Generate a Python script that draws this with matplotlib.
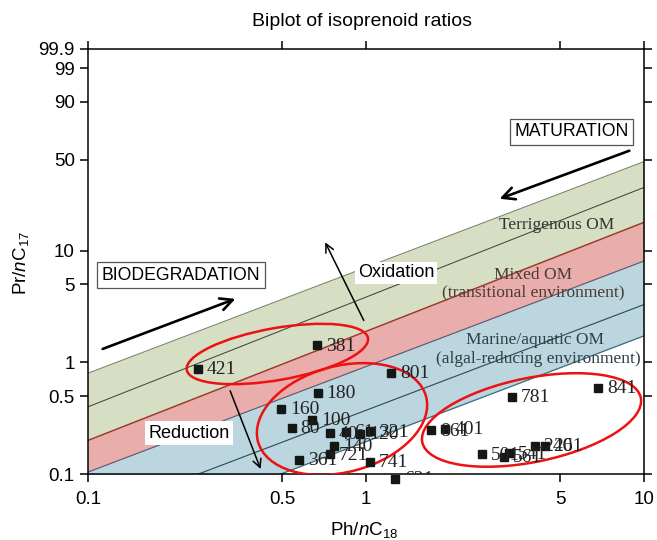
import numpy as np
import matplotlib
matplotlib.use("Agg")
import matplotlib.pyplot as plt
from matplotlib.patches import Ellipse
from matplotlib.transforms import ScaledTranslation

plt.rcParams['font.family'] = ['Liberation Sans', 'DejaVu Sans']
plt.rcParams['mathtext.fontset'] = 'custom'
plt.rcParams['mathtext.rm'] = 'Liberation Sans'
plt.rcParams['mathtext.it'] = 'Liberation Sans:italic'

# samples (Ph/nC18, Pr/nC17)
sample_ids = ['421', '381', '801', '180', '160', '100', '80',
              '40', '61', '120', '321', '140', '721', '361', '741', '621',
              '861', '401', '501', '561', '541', '240', '261', '781', '841']
ph_nc18 = [0.248, 0.668, 1.23, 0.67, 0.496, 0.64, 0.54,
           0.74, 0.844, 0.955, 1.034, 0.769, 0.742, 0.573, 1.034, 1.27,
           1.72, 1.93, 2.61, 3.13, 3.26, 4.04, 4.39, 3.35, 6.82]
pr_nc17 = [0.875, 1.42, 0.81, 0.53, 0.386, 0.305, 0.26,
           0.231, 0.238, 0.228, 0.241, 0.178, 0.150, 0.134, 0.129, 0.090,
           0.246, 0.252, 0.150, 0.143, 0.153, 0.179, 0.179, 0.493, 0.594]

# environment boundaries, Pr/nC17 at Ph/nC18 = 0.1 and 10
band_x = [0.1, 10]
terr_top = [0.80, 63]
terr_mid = [0.40, 37]
mixed_top = [0.20, 18]
marine_top = [0.104, 8.1]
marine_mid = [0.042, 3.3]
marine_bot = [0.022, 1.73]

x_ticks = [0.1, 0.5, 1, 5, 10]
x_tick_labels = ['0.1', '0.5', '1', '5', '10']
# upper y ticks sit where the figure prints them, not on a true log grid
y_ticks = [0.1, 0.5, 1, 5, 10, 65.5, 217, 434, 644]
y_tick_labels = ['0.1', '0.5', '1', '5', '10', '50', '90', '99', '99.9']

# cluster ellipses: centre (data), width/height (inches), angle
clusters = [((0.480, 1.19), 1.84, 0.52, 10),
            ((0.820, 0.311), 1.74, 1.06, 15),
            ((3.94, 0.305), 2.23, 0.84, 11.5)]

fig = plt.figure(figsize=(6.57, 5.40), dpi=100)
ax = fig.add_axes([0.1339, 0.1222, 0.8463, 0.7871])
ax.set_xscale('log')
ax.set_yscale('log')

ax.fill_between(band_x, terr_top, mixed_top, color='#d6dec4', lw=0, zorder=1)
ax.fill_between(band_x, mixed_top, marine_top, color='#e9adab', lw=0, zorder=1)
ax.fill_between(band_x, marine_top, marine_bot, color='#bbd6df', lw=0, zorder=1)
ax.plot(band_x, terr_top, color='#7d8468', lw=0.8, zorder=2)
ax.plot(band_x, terr_mid, color='#3a3d33', lw=0.7, zorder=2)
ax.plot(band_x, mixed_top, color='#9c3b2a', lw=1.1, zorder=2)
ax.plot(band_x, marine_top, color='#5e6078', lw=0.9, zorder=2)
ax.plot(band_x, marine_mid, color='#2c4852', lw=0.8, zorder=2)
ax.plot(band_x, marine_bot, color='#3f6d7c', lw=0.9, zorder=2)

serif = ['Liberation Serif', 'DejaVu Serif']
ax.text(4.86, 17.1, 'Terrigenous OM', ha='center', va='center', fontsize=12.5,
        family=serif, color='#333333', zorder=3)
ax.text(3.99, 6.09, 'Mixed OM', ha='center', va='center', fontsize=12.5,
        family=serif, color='#4a3a36', zorder=3)
ax.text(3.99, 4.20, '(transitional environment)', ha='center', va='center',
        fontsize=12.5, family=serif, color='#4a3a36', zorder=3)
ax.text(4.06, 1.59, 'Marine/aquatic OM', ha='center', va='center', fontsize=12.5,
        family=serif, color='#2f3f45', zorder=3)
ax.text(4.16, 1.075, '(algal-reducing environment)', ha='center', va='center',
        fontsize=12.5, family=serif, color='#2f3f45', zorder=3)

for (cx, cy), w, h, ang in clusters:
    tr = fig.dpi_scale_trans + ScaledTranslation(cx, cy, ax.transData)
    e = Ellipse((0, 0), w, h, angle=ang, transform=tr, fill=False,
                ec='#ee1111', lw=1.8, zorder=3)
    ax.add_artist(e)

ax.plot(ph_nc18, pr_nc17, 's', ms=6, color='#141814', clip_on=False, zorder=4)
for sid, xv, yv in zip(sample_ids, ph_nc18, pr_nc17):
    ax.annotate(sid, (xv, yv), xytext=(6.5, -0.5), textcoords='offset points',
                ha='left', va='center', fontsize=14, family=serif,
                color='#222222', annotation_clip=False, clip_on=True, zorder=4)

# process arrows
big = dict(arrowstyle='->', lw=1.9, color='black', mutation_scale=22)
thin = dict(arrowstyle='->', lw=1.1, color='black', mutation_scale=15)
ax.annotate('', xy=(0.3464, 3.79), xytext=(0.1105, 1.294), arrowprops=big, zorder=5)
ax.annotate('', xy=(2.96, 28.7), xytext=(9.05, 80.5), arrowprops=big, zorder=5)
ax.annotate('', xy=(0.706, 12.55), xytext=(0.992, 2.26), arrowprops=thin, zorder=5)
ax.annotate('', xy=(0.4214, 0.105), xytext=(0.322, 0.587), arrowprops=thin, zorder=5)

ax.text(0.216, 6.03, 'BIODEGRADATION', ha='center', va='center', fontsize=12.7,
        bbox=dict(boxstyle='square,pad=0.25', fc='white', ec='#555555', lw=0.9),
        zorder=6)
ax.text(5.485, 116.7, 'MATURATION', ha='center', va='center', fontsize=12.7,
        bbox=dict(boxstyle='square,pad=0.25', fc='white', ec='#555555', lw=0.9),
        zorder=6)
ax.text(1.283, 6.35, 'Oxidation', ha='center', va='center', fontsize=13,
        bbox=dict(boxstyle='square,pad=0.15', fc='white', ec='none'), zorder=6)
ax.text(0.2308, 0.233, 'Reduction', ha='center', va='center', fontsize=13,
        bbox=dict(boxstyle='square,pad=0.2', fc='white', ec='none'), zorder=6)

ax.set_xlim(0.1, 10)
ax.set_ylim(0.1, 644)
ax.set_xticks(x_ticks)
ax.set_xticklabels(x_tick_labels)
ax.set_yticks(y_ticks)
ax.set_yticklabels(y_tick_labels)
ax.minorticks_off()
ax.tick_params(direction='out', top=True, right=True, length=6, width=1.1,
               labelsize=13.5)
ax.tick_params(axis='x', pad=6)
ax.tick_params(axis='y', pad=3.5)
for s in ax.spines.values():
    s.set_linewidth(1.1)

fig.text(362.5 / 657, 0.952, 'Biplot of isoprenoid ratios', ha='center',
         va='baseline', fontsize=14)
fig.text(364 / 657, 0.0093, r'Ph/$\it{n}$C$_{18}$', ha='center', va='baseline',
         fontsize=13.5)
fig.text(21 / 657, 0.513, r'Pr/$\it{n}$C$_{17}$', ha='center', va='center',
         rotation=90, fontsize=13.5)

fig.savefig('out.png', dpi=100)
